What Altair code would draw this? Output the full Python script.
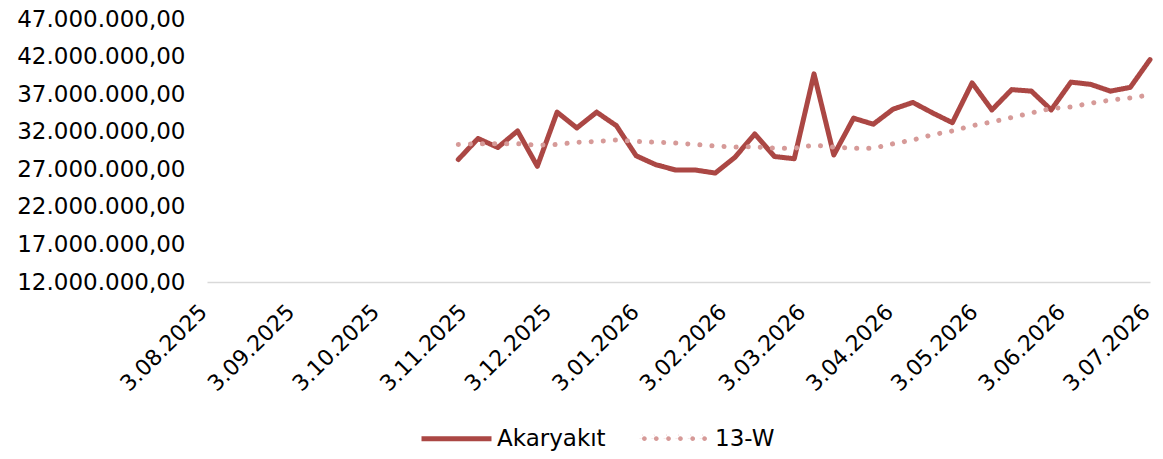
import altair as alt
import pandas as pd

dates = pd.date_range("2025-10-31", periods=36, freq="7D").strftime("%Y-%m-%d").tolist()

akaryakit = [28.3, 31.1, 29.9, 32.1, 27.4, 34.6, 32.5, 34.6, 32.8, 28.8,
             27.6, 26.9, 26.9, 26.5, 28.6, 31.7, 28.7, 28.4, 39.7, 28.9,
             33.8, 33.0, 35.0, 35.9, 34.5, 33.2, 38.5, 34.9, 37.6, 37.4,
             34.9, 38.6, 38.3, 37.4, 37.9, 41.6]

w13 = [30.3, 30.4, 30.4, 30.4, 30.2, 30.3, 30.6, 30.7, 30.9, 30.7,
       30.6, 30.5, 30.3, 30.1, 29.95, 30.0, 29.8, 29.8, 30.2, 29.95,
       29.8, 29.8, 30.4, 30.9, 31.6, 32.1, 32.8, 33.3, 33.9, 34.5,
       35.1, 35.3, 35.8, 36.2, 36.5, 36.9]

series_names = ["Akaryakıt", "13-W"]
colors = ["#AB4744", "#D69A98"]
y_ticks = [12, 17, 22, 27, 32, 37, 42, 47]
x_ticks = [(2025, 8), (2025, 9), (2025, 10), (2025, 11), (2025, 12),
           (2026, 1), (2026, 2), (2026, 3), (2026, 4), (2026, 5), (2026, 6), (2026, 7)]

rows = []
for d, a, m in zip(dates, akaryakit, w13):
    rows.append({"date": d, "value": a * 1_000_000, "series": series_names[0]})
    rows.append({"date": d, "value": m * 1_000_000, "series": series_names[1]})
df = pd.DataFrame(rows)

FONT = "DejaVu Sans"

# dotted legend symbol: six small filled circles along the line (unit square path)
def dot(cx, r=0.068):
    return f"M{cx - r},0a{r},{r} 0 1,0 {2 * r},0a{r},{r} 0 1,0 {-2 * r},0Z"

dots_path = "".join(dot(cx) for cx in [-0.86, -0.52, -0.17, 0.17, 0.52, 0.86])
symbol_expr = f"datum.value == '13-W' ? '{dots_path}' : 'stroke'"

chart = alt.Chart(df).mark_line(strokeWidth=5, strokeCap="round", strokeJoin="round").encode(
    x=alt.X(
        "date:T",
        scale=alt.Scale(
            type="utc",
            domain=[alt.DateTime(year=2025, month=8, date=3, utc=True),
                    alt.DateTime(year=2026, month=7, date=3, utc=True)],
            nice=False,
        ),
        axis=alt.Axis(
            title=None,
            values=[alt.DateTime(year=y, month=mo, date=3, utc=True) for y, mo in x_ticks],
            labelExpr="utcFormat(datum.value, '%-d.%m.%Y')",
            labelAngle=-45,
            labelAlign="right",
            labelBaseline="middle",
            labelFontSize=22,
            labelFont=FONT,
            labelColor="#000000",
            labelPadding=26,
            labelOffset=-4,
            ticks=False,
            grid=False,
            domainColor="#D9D9D9",
            domainWidth=1.5,
            labelOverlap=False,
        ),
    ),
    y=alt.Y(
        "value:Q",
        scale=alt.Scale(domain=[12_000_000, 47_000_000], nice=False, zero=False),
        axis=alt.Axis(
            title=None,
            values=[v * 1_000_000 for v in y_ticks],
            labelExpr="format(datum.value / 1000000, 'd') + '.000.000,00'",
            labelFontSize=23,
            labelFont=FONT,
            labelColor="#000000",
            labelPadding=22,
            ticks=False,
            grid=False,
            domain=False,
        ),
    ),
    color=alt.Color(
        "series:N",
        scale=alt.Scale(domain=series_names, range=colors),
        legend=alt.Legend(
            title=None,
            orient="none",
            legendX=212,
            legendY=382,
            direction="horizontal",
            symbolType={"expr": symbol_expr},
            symbolSize=4900,
            symbolStrokeWidth=5,
            symbolFillColor="#D69A98",
            labelFontSize=23,
            labelFont=FONT,
            labelColor="#000000",
            labelOffset=3,
            columnPadding=26,
        ),
    ),
    strokeDash=alt.StrokeDash(
        "series:N",
        scale=alt.Scale(domain=series_names, range=[[1, 0], [0.1, 12]]),
        legend=None,
    ),
).properties(
    width=943,
    height=263,
    autosize=alt.AutoSizeParams(type="none"),
    padding={"left": 199, "top": 11, "right": 5, "bottom": 169},
).configure_view(stroke=None)

chart.save("out.html", embed_options={"renderer": "svg", "actions": False})
